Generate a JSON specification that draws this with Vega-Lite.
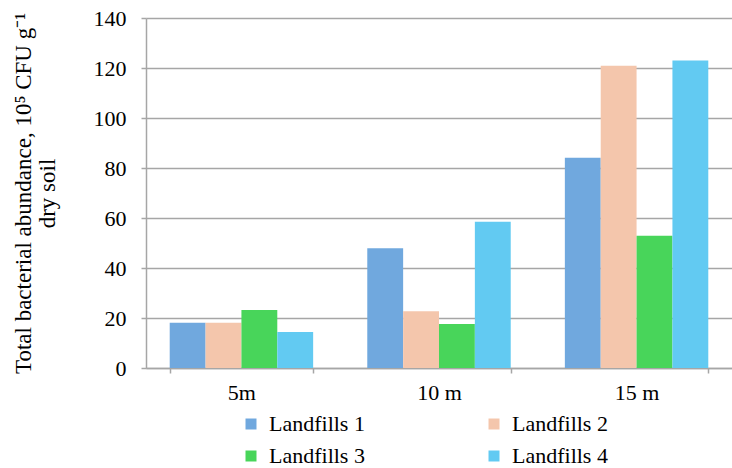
{
  "$schema": "https://vega.github.io/schema/vega-lite/v6.json",
  "width": 586,
  "height": 350,
  "autosize": {"type": "none"},
  "padding": {"left": 146, "top": 18, "right": 0, "bottom": 100},
  "background": "white",
  "config": {
    "view": {"stroke": null},
    "font": "serif",
    "axis": {
      "labelFont": "Liberation Serif, serif",
      "titleFont": "Liberation Serif, serif",
      "labelFontSize": 22,
      "labelColor": "black",
      "titleColor": "black",
      "domainColor": "#A6A6A6",
      "domainWidth": 1.5,
      "tickColor": "#A6A6A6",
      "tickWidth": 1.5,
      "gridColor": "#A6A6A6",
      "gridWidth": 1.5,
      "tickSize": 5
    },
    "legend": {
      "labelFont": "Liberation Serif, serif",
      "labelFontSize": 22,
      "labelColor": "black"
    }
  },
  "data": {
    "values": [
      {"distance": "5m", "site": "Landfills 1", "value": 18.1},
      {"distance": "5m", "site": "Landfills 2", "value": 18.1},
      {"distance": "5m", "site": "Landfills 3", "value": 23.2},
      {"distance": "5m", "site": "Landfills 4", "value": 14.4},
      {"distance": "10 m", "site": "Landfills 1", "value": 47.9},
      {"distance": "10 m", "site": "Landfills 2", "value": 22.7},
      {"distance": "10 m", "site": "Landfills 3", "value": 17.6},
      {"distance": "10 m", "site": "Landfills 4", "value": 58.5},
      {"distance": "15 m", "site": "Landfills 1", "value": 84.1},
      {"distance": "15 m", "site": "Landfills 2", "value": 120.9},
      {"distance": "15 m", "site": "Landfills 3", "value": 52.9},
      {"distance": "15 m", "site": "Landfills 4", "value": 123}
    ]
  },
  "mark": {"type": "bar"},
  "encoding": {
    "x": {
      "field": "distance",
      "type": "nominal",
      "sort": ["5m", "10 m", "15 m"],
      "scale": {"paddingInner": 0.274, "paddingOuter": 0.12},
      "axis": {
        "title": null,
        "labelAngle": 0,
        "labelPadding": 9,
        "tickBand": "extent",
        "grid": false
      }
    },
    "xOffset": {
      "field": "site",
      "type": "nominal",
      "scale": {"paddingInner": 0, "paddingOuter": 0}
    },
    "y": {
      "field": "value",
      "type": "quantitative",
      "scale": {"domain": [0, 140], "nice": false},
      "axis": {
        "values": [0, 20, 40, 60, 80, 100, 120, 140],
        "title": ["Total bacterial abundance, 10⁵ CFU g⁻¹", "dry soil"],
        "titleFontSize": 23,
        "titleFontWeight": "normal",
        "titlePadding": 34,
        "titleLineHeight": 24,
        "labelPadding": 15,
        "grid": true
      }
    },
    "color": {
      "field": "site",
      "type": "nominal",
      "scale": {
        "domain": ["Landfills 1", "Landfills 2", "Landfills 3", "Landfills 4"],
        "range": ["#70A8DE", "#F4C6AC", "#48D55A", "#62CAF2"]
      },
      "legend": {
        "title": null,
        "orient": "none",
        "direction": "horizontal",
        "legendX": 94,
        "legendY": 395,
        "columns": 2,
        "symbolType": "square",
        "symbolSize": 121,
        "symbolStrokeWidth": 0,
        "labelOffset": 7,
        "columnPadding": 118,
        "rowPadding": 10
      }
    }
  }
}
